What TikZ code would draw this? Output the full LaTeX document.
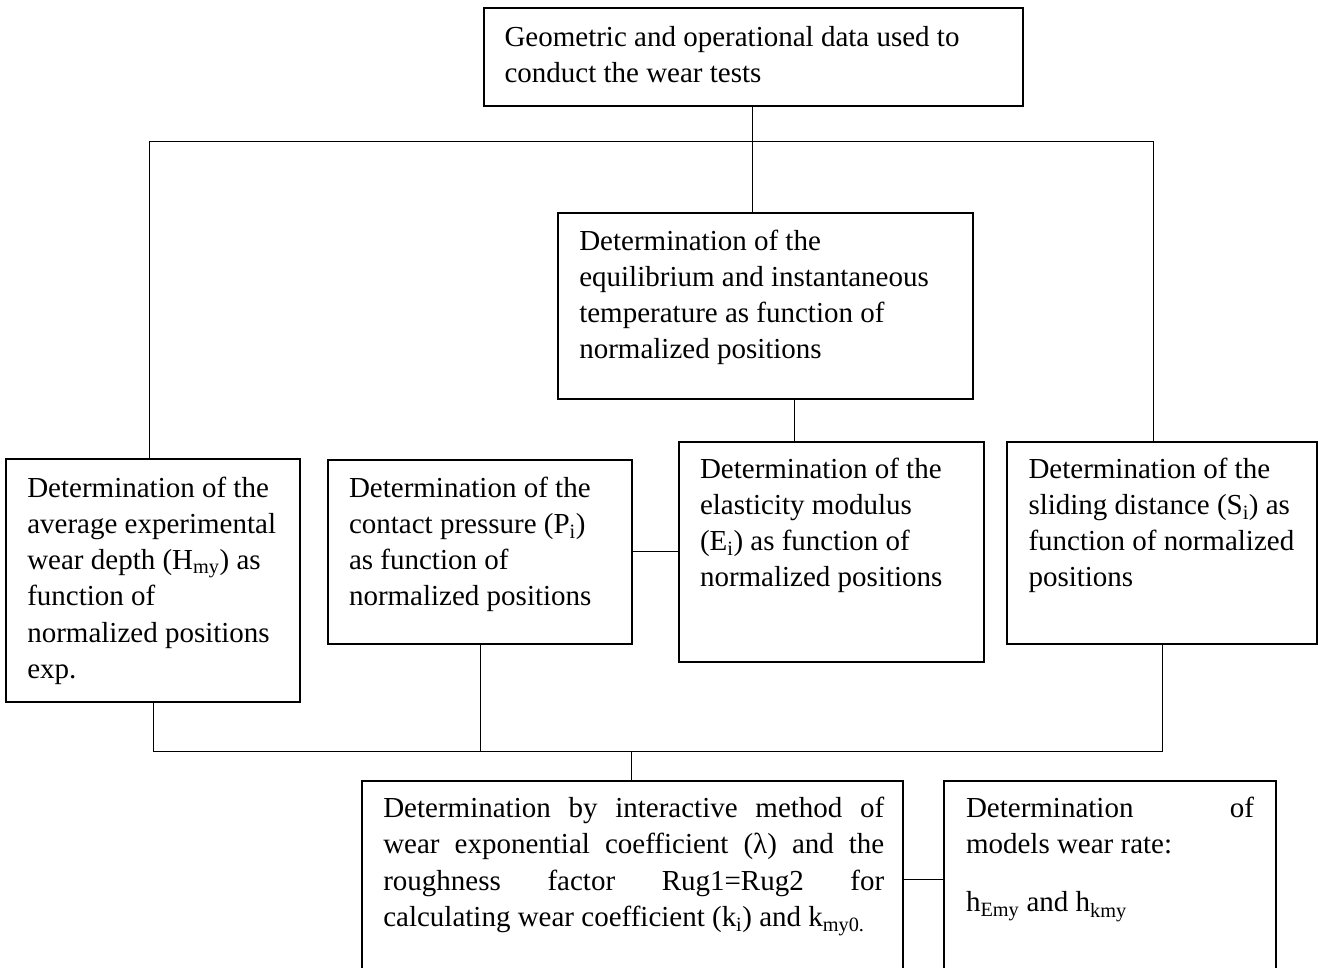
\documentclass[tikz,border=0pt]{standalone}
\usepackage{fontspec}
\setmainfont{Liberation Serif}
\newcommand\normsp{\spaceskip=0pt\xspaceskip=0pt\relax}
\tikzset{
  box/.style={draw, line width=2pt, rectangle, inner sep=0pt, outer sep=0pt, anchor=north west},
  txt/.style={anchor=north west, inner sep=0pt, outer sep=0pt, align=left, font=\fontsize{29}{36.2}\selectfont},
  conn/.style={line width=1pt},
}
\begin{document}
\begin{tikzpicture}[x=1pt,y=-1pt]
\path[use as bounding box] (0,0) rectangle (1318,968);
\clip (0,0) rectangle (1318,968);

% boxes
\node[box, minimum width=539pt, minimum height=97.5pt] (T) at (483.5,8.5) {};
\node[box, minimum width=414.5pt, minimum height=186pt] (M) at (558,213) {};
\node[box, minimum width=293.5pt, minimum height=242.7pt] (A) at (6,459) {};
\node[box, minimum width=303.5pt, minimum height=184.5pt] (B) at (328,459.5) {};
\node[box, minimum width=304.5pt, minimum height=220pt] (C) at (679,441.7) {};
\node[box, minimum width=310pt, minimum height=202pt] (D) at (1007,442) {};
\node[box, minimum width=541pt, minimum height=250pt] (E) at (361.7,781) {};
\node[box, minimum width=331.4pt, minimum height=250pt] (F) at (944.3,781) {};

% texts
\node[txt, text width=520pt] (tT) at (504.5,21.3) {\normsp\strut Geometric and operational data used to\\conduct the wear tests};
\node[txt, text width=390pt] (tM) at (579.3,224.7) {\normsp\strut Determination of the\\equilibrium and instantaneous\\temperature as function of\\normalized positions};
\node[txt, text width=270pt] (tA) at (27.3,472) {\normsp\strut Determination of the\\average experimental\\wear depth (H\textsubscript{my}) as\\function of\\normalized positions\\exp.};
\node[txt, text width=280pt] (tB) at (349,471.7) {\normsp\strut Determination of the\\contact pressure (P\textsubscript{i})\\as function of\\normalized positions};
\node[txt, text width=280pt] (tC) at (700,452.7) {\normsp\strut Determination of the\\elasticity modulus\\(E\textsubscript{i}) as function of\\normalized positions};
\node[txt, text width=285pt] (tD) at (1028.5,452.7) {\normsp\strut Determination of the\\sliding distance (S\textsubscript{i}) as\\function of normalized\\positions};
\node[txt, text width=501pt] (tE) at (383.3,792.4) {\normsp\strut\makebox[501pt][s]{Determination by interactive method of}\\\makebox[501pt][s]{wear exponential coefficient (λ) and the}\\\makebox[501pt][s]{roughness factor Rug1=Rug2 for}\\calculating wear coefficient (k\textsubscript{i}) and k\textsubscript{my0.}};
\node[txt, text width=288pt] (tF) at (966,792.4) {\normsp\strut\makebox[288pt][s]{Determination of}\\models wear rate:\\[21.5pt]h\textsubscript{Emy} and h\textsubscript{kmy}};

% connector coordinates
\coordinate (b1L) at (149,142);
\coordinate (b1R) at (1153,142);
\coordinate (x1) at (752,142);
\coordinate (x2) at (794,0);
\coordinate (y1) at (0,551.7);
\coordinate (b2L) at (153,751.7);
\coordinate (b2R) at (1162,751.7);
\coordinate (x3) at (480.5,0);
\coordinate (x4) at (631.7,0);
\coordinate (y2) at (0,879);

% connectors
\draw[conn] (T.south -| x1) -- (M.north -| x1);
\draw[conn] (A.north -| b1L) -- (b1L) -- (b1R) -- (D.north -| b1R);
\draw[conn] (M.south -| x2) -- (C.north -| x2);
\draw[conn] (B.east |- y1) -- (C.west |- y1);
\draw[conn] (A.south -| b2L) -- (b2L) -- (b2R) -- (D.south -| b2R);
\draw[conn] (B.south -| x3) -- (x3 |- b2L);
\draw[conn] (x4 |- b2L) -- (E.north -| x4);
\draw[conn] (E.east |- y2) -- (F.west |- y2);
\end{tikzpicture}
\end{document}
